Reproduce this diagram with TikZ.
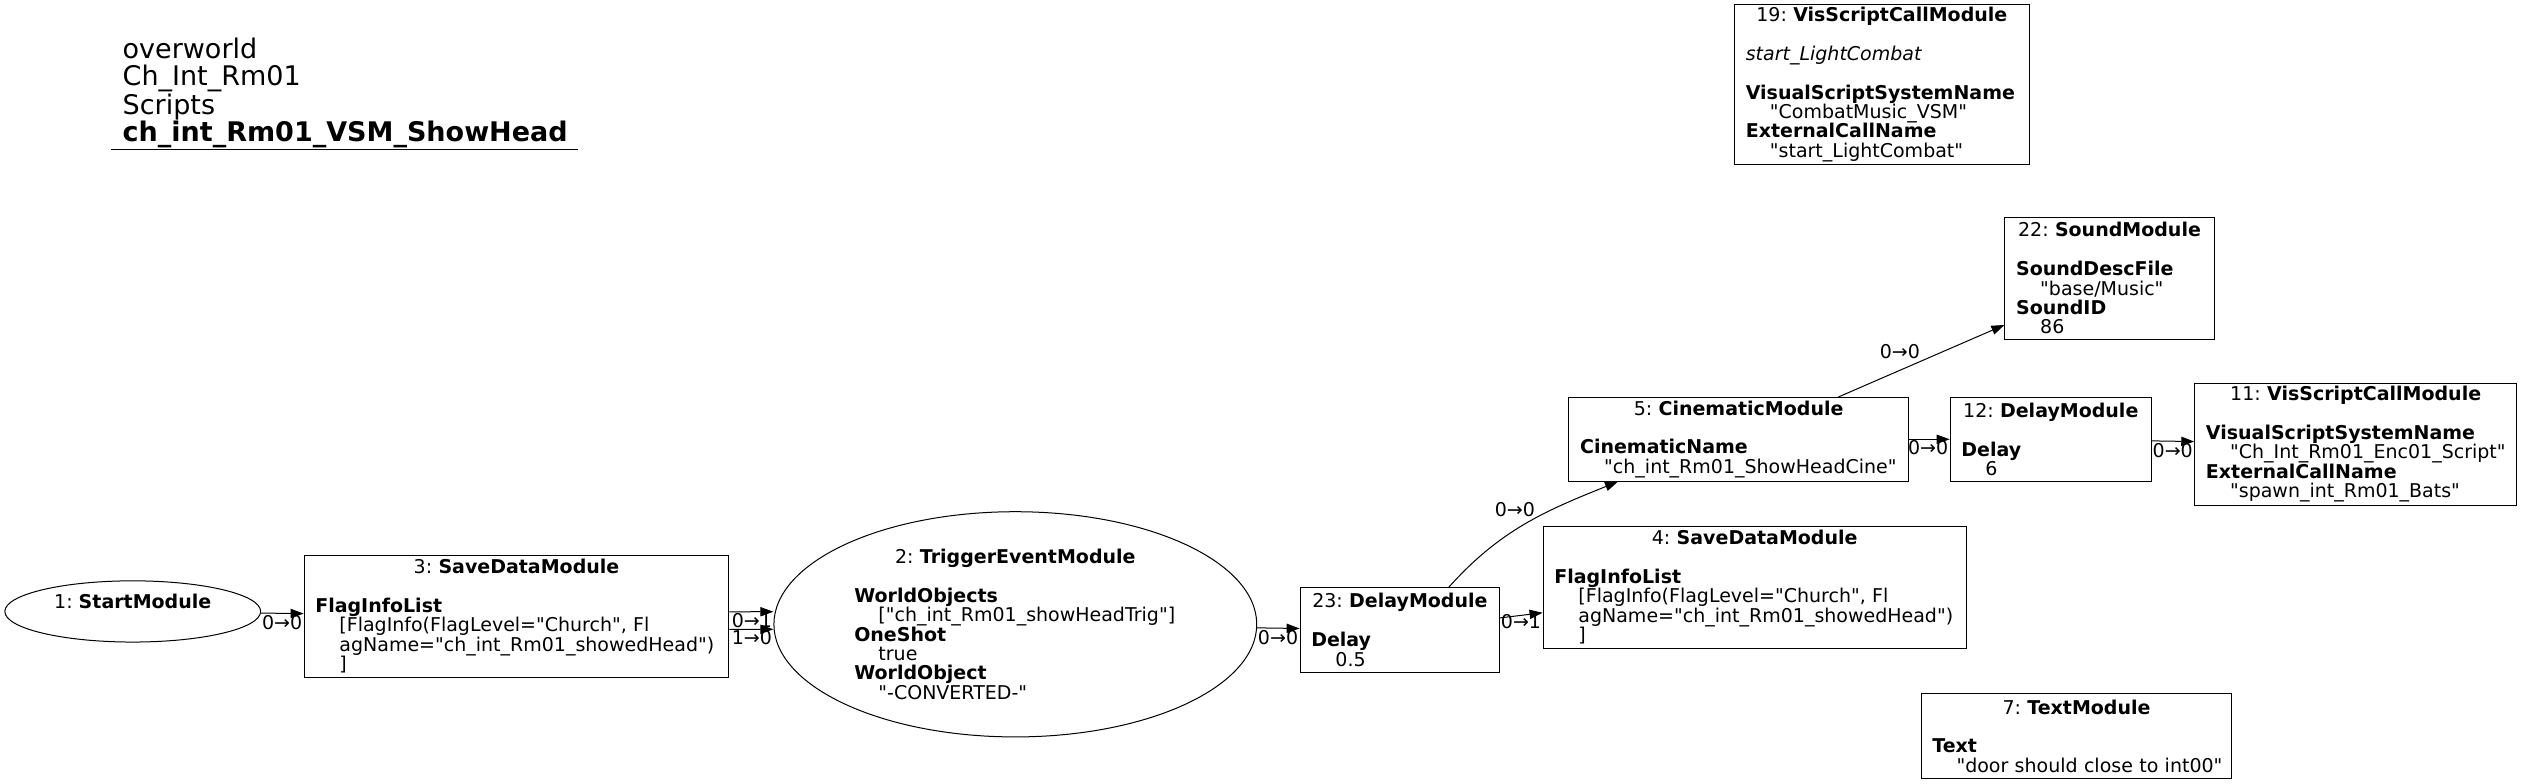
\documentclass[tikz,border=0pt]{standalone}
\usepackage{fontspec}
\setmainfont{DejaVu Sans}[Ligatures=TeXOff]
\usetikzlibrary{shapes.geometric, arrows.meta, positioning}
\newcommand{\vind}{\hspace*{1.27em}}
\frenchspacing
\hyphenpenalty=10000
\exhyphenpenalty=10000

\begin{document}
\begin{tikzpicture}[
    x=0.8045pt, y=-0.8045pt,
    font=\fontsize{9.5}{9.7}\selectfont,
    modbox/.style = {
        rectangle, draw=black, line width=0.5pt,
        inner xsep=5.6pt, inner ysep=1pt, align=left
    },
    modoval/.style = {
        ellipse, draw=black, line width=0.5pt, inner sep=0pt
    },
    arr/.style = {-{Triangle[length=6.5pt, width=4.6pt]}, line width=0.5pt},
    lbl/.style = {inner sep=0.5pt},
]
\useasboundingbox (0,0) rectangle (1568,487);

\node[anchor=north west, align=left, inner sep=0pt,
      font=\fontsize{13.5}{13.4}\selectfont] (title) at (76,23.5)
    {overworld\\Ch\_Int\_Rm01\\Scripts\\\textbf{ch\_int\_Rm01\_VSM\_ShowHead}};
\draw[line width=0.5pt] (69,93) -- (359,93);

\node[modoval, minimum width=127.9pt, minimum height=30.6pt, align=center] (n1) at (82.5,380)
    {1:~\textbf{StartModule}\\~};
\node[modbox, text width=201.2pt, minimum height=61.1pt] (n3) at (321,383)
    {\hfill 3:~\textbf{SaveDataModule}\hfill\null\\[9.7pt]
     \textbf{FlagInfoList}\\
     \vind[FlagInfo(FlagLevel="Church",~Fl\\
     \vind agName="ch\_int\_Rm01\_showedHead")\\
     \vind]};
\node[modoval, minimum width=241.4pt, minimum height=112.6pt, text width=161pt, align=left] (n2) at (631,388)
    {\hfill 2:~\textbf{TriggerEventModule}\hfill\null\\[9.7pt]
     \textbf{WorldObjects}\\
     \vind["ch\_int\_Rm01\_showHeadTrig"]\\
     \textbf{OneShot}\\
     \vind true\\
     \textbf{WorldObject}\\
     \vind"-CONVERTED-"};
\node[modbox, text width=88.6pt, minimum height=42.6pt] (n23) at (870,391.5)
    {\hfill 23:~\textbf{DelayModule}\hfill\null\\[9.7pt]
     \textbf{Delay}\\
     \vind 0.5};
\node[modbox, text width=200.4pt, minimum height=61.1pt] (n4) at (1090.5,365)
    {\hfill 4:~\textbf{SaveDataModule}\hfill\null\\[9.7pt]
     \textbf{FlagInfoList}\\
     \vind[FlagInfo(FlagLevel="Church",~Fl\\
     \vind agName="ch\_int\_Rm01\_showedHead")\\
     \vind]};
\node[modbox, text width=158.5pt, minimum height=41.8pt] (n5) at (1080.5,273)
    {\hfill 5:~\textbf{CinematicModule}\hfill\null\\[9.7pt]
     \textbf{CinematicName}\\
     \vind"ch\_int\_Rm01\_ShowHeadCine"};
\node[modbox, text width=89.4pt, minimum height=41.8pt] (n12) at (1274.5,273)
    {\hfill 12:~\textbf{DelayModule}\hfill\null\\[9.7pt]
     \textbf{Delay}\\
     \vind 6};
\node[modbox, text width=149.7pt, minimum height=61.1pt] (n11) at (1464,276)
    {\hfill 11:~\textbf{VisScriptCallModule}\hfill\null\\[9.7pt]
     \textbf{VisualScriptSystemName}\\
     \vind"Ch\_Int\_Rm01\_Enc01\_Script"\\
     \textbf{ExternalCallName}\\
     \vind"spawn\_int\_Rm01\_Bats"};
\node[modbox, text width=93.4pt, minimum height=61.1pt] (n22) at (1311,173)
    {\hfill 22:~\textbf{SoundModule}\hfill\null\\[9.7pt]
     \textbf{SoundDescFile}\\
     \vind"base/Music"\\
     \textbf{SoundID}\\
     \vind 86};
\node[modbox, text width=136pt, minimum height=79.6pt] (n19) at (1169.5,52.5)
    {\hfill 19:~\textbf{VisScriptCallModule}\hfill\null\\[9.7pt]
     \textit{start\_LightCombat}\\[9.7pt]
     \textbf{VisualScriptSystemName}\\
     \vind"CombatMusic\_VSM"\\
     \textbf{ExternalCallName}\\
     \vind"start\_LightCombat"};
\node[modbox, text width=144.1pt, minimum height=42.6pt] (n7) at (1290.5,457.5)
    {\hfill 7:~\textbf{TextModule}\hfill\null\\[9.7pt]
     \textbf{Text}\\
     \vind"door~should~close~to~int00"};

\draw[arr] (n1) -- (n3) node[lbl, pos=1, anchor=north east] {0→0};
\draw[arr] ([yshift=2.25pt]n3.east) -- ([yshift=6.3pt]n2.west)
    node[lbl, pos=1, anchor=north east] {0→1};
\draw[arr] ([yshift=-6.5pt]n3.east) -- ([yshift=-2.5pt]n2.west)
    node[lbl, pos=1, anchor=north east] {1→0};
\draw[arr] (n2) -- (n23) node[lbl, pos=1, anchor=north east] {0→0};
\draw[arr] (n23) -- (n4) node[lbl, pos=1, anchor=north east] {0→1};
\draw[arr] ([xshift=24.6pt]n23.north) to[out=48, in=-158]
    node[lbl, pos=0.43, above=6pt] {0→0} ([xshift=-60.3pt]n5.south);
\draw[arr] (n5) -- (n12) node[lbl, pos=1, anchor=north east] {0→0};
\draw[arr] (n12) -- (n11) node[lbl, pos=1, anchor=north east] {0→0};
\draw[arr] ([xshift=49.9pt]n5.north) -- ([yshift=-23.3pt]n22.west)
    node[lbl, pos=0.37, above=5pt] {0→0};

\end{tikzpicture}
\end{document}
